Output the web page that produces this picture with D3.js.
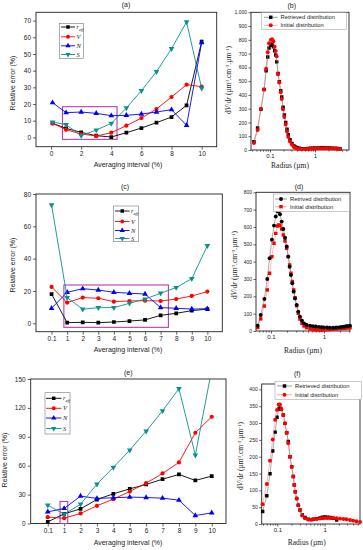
<!DOCTYPE html>
<html>
<head>
<meta charset="utf-8">
<script src="https://cdn.jsdelivr.net/npm/d3@7"></script>
<style>
body { margin: 0; background: #fff; }
svg { display: block; font-family: "Liberation Sans", Arial, sans-serif; }
</style>
</head>
<body>
<svg id="fig" width="363" height="550"></svg>
<script>
// ---- relative error panels ----
// (a) numeric x axis
var aX    = [0.1, 1, 2, 3, 4, 5, 6, 7, 8, 9, 10];
var aReff = [8.4, 5.4, 3.0, 1.0, 0.2, 2.8, 5.6, 8.8, 12.2, 19.2, 57.4];
var aV    = [8.4, 4.6, 2.0, 0.8, 2.8, 7.0, 11.6, 17.0, 24.2, 31.6, 30.4];
var aN    = [20.8, 14.8, 15.2, 14.4, 13.0, 13.2, 14.0, 15.2, 16.6, 7.2, 56.8];
var aS    = [9.2, 7.6, 1.0, 4.4, 8.4, 17.6, 28.0, 39.4, 53.2, 69.2, 29.4];

// (c) and (e) use category ticks
var intervals = ["0.1", "1", "2", "3", "4", "5", "6", "7", "8", "9", "10"];
var cReff = [18.1, 0.4, 0.6, 0.4, 0.8, 1.4, 2.1, 4.9, 6.2, 7.8, 8.8];
var cV    = [22.5, 12.8, 15.9, 15.5, 13.4, 13.8, 14.0, 13.8, 15.0, 16.9, 19.6];
var cN    = [9.3, 19.2, 21.4, 20.6, 19.2, 18.6, 18.1, 9.7, 9.3, 8.8, 9.0];
var cS    = [73.2, 15.9, 8.7, 9.7, 9.7, 12.4, 15.0, 18.6, 22.1, 27.6, 48.0];

var eReff = [1.7, 10.0, 15.2, 24.9, 30.8, 36.0, 40.5, 46.0, 50.9, 44.7, 49.2];
var eV    = [6.6, 5.5, 10.4, 18.4, 25.3, 33.2, 41.9, 52.0, 63.4, 94.2, 110.8];
var eN    = [12.1, 15.6, 28.4, 26.0, 26.7, 27.4, 27.0, 26.3, 24.2, 8.3, 11.0];
var eS    = [19.0, 9.7, 20.0, 40.9, 58.2, 76.2, 95.9, 117.0, 140.0, 71.0, 160.0];

// ---- size distributions ----
var bR   = [0.044, 0.053, 0.063, 0.074, 0.082, 0.089, 0.095, 0.104, 0.111, 0.119, 0.127, 0.134, 0.141, 0.151, 0.161, 0.173, 0.182, 0.195, 0.208, 0.223, 0.239, 0.255, 0.278, 0.308, 0.341, 0.37, 0.4, 0.45, 0.5, 0.6, 0.7, 0.8, 0.9, 1.0, 1.2, 1.4, 1.6, 1.8, 2.1, 2.4, 2.8, 3.2, 3.6];
var bRet = [60, 160, 295, 440, 575, 675, 740, 760, 770, 750, 720, 690, 640, 555, 495, 430, 385, 310, 255, 200, 150, 110, 75, 48, 30, 22, 16, 12, 10, 10, 11, 12, 13, 14, 15, 16, 16, 15, 14, 13, 12, 11, 10];
var bIni = [50, 145, 300, 440, 590, 710, 775, 800, 805, 790, 750, 720, 680, 550, 490, 420, 370, 295, 240, 185, 135, 95, 62, 38, 22, 14, 10, 8, 7, 7, 8, 9, 10, 11, 12, 13, 13, 13, 12, 11, 10, 9, 8];

var dR   = [0.056, 0.064, 0.075, 0.085, 0.094, 0.104, 0.114, 0.123, 0.132, 0.140, 0.148, 0.159, 0.171, 0.184, 0.198, 0.212, 0.225, 0.238, 0.252, 0.268, 0.284, 0.305, 0.327, 0.352, 0.384, 0.42, 0.47, 0.545, 0.62, 0.7, 0.8, 0.9, 1.0, 1.15, 1.3, 1.5, 1.7, 1.9, 2.1, 2.35, 2.6, 2.85, 3.1];
var dRet = [31, 92, 185, 300, 420, 527, 608, 660, 690, 690, 673, 631, 588, 538, 487, 429, 371, 323, 275, 227, 188, 150, 112, 83, 60, 44, 35, 31, 28, 26, 24, 22, 21, 20, 19, 19, 20, 21, 23, 25, 27, 29, 31];
var dIni = [20, 70, 144, 237, 333, 429, 506, 563, 606, 612, 608, 588, 554, 519, 477, 429, 381, 333, 285, 237, 192, 146, 102, 69, 44, 29, 19, 12, 9, 7, 6, 6, 7, 8, 9, 10, 12, 13, 14, 15, 16, 18, 19];

var fR   = [0.049, 0.06, 0.07, 0.08, 0.09, 0.0986, 0.107, 0.114, 0.1216, 0.134, 0.1455, 0.158, 0.171, 0.1855, 0.2015, 0.218, 0.229, 0.24, 0.257, 0.278, 0.302, 0.338, 0.385, 0.452, 0.52, 0.576, 0.68, 0.8, 0.9, 1.02, 1.15, 1.3, 1.5, 1.8, 2.12, 2.5, 2.9, 3.44, 4.0, 4.7, 5.6];
var fRet = [37, 84, 149, 217, 273, 317, 342, 345, 341, 324, 299, 271, 245, 200, 170, 141, 116, 96, 76, 56, 42, 27, 19, 14, 13, 14, 16, 18, 20, 21, 20, 19, 17, 12, null, null, null, null, null, null, null];
var fIni = [59, 119, 188, 251, 310, 339, 355, 355, 341, 324, 299, 271, 240, 200, 170, 141, 116, 96, 76, 56, 40, 25, 17, 13, 13, 14, 15, 16, 17, 18, 18, 18, 18, 17, 16, 15, 14, 12, 10, 8, 6];

var svg = d3.select("#fig");
var serif = "'Liberation Serif', 'Times New Roman', serif";
var seriesColors = ["#000000", "#ff0000", "#0000ff", "#0a9090"];
var seriesShapes = ["square", "circle", "up", "down"];
var boxColor = "#b040b0";
var clipCount = 0;

function marker(shape, size) {
    if (shape == "square") return d3.symbol(d3.symbolSquare, size)();
    if (shape == "circle") return d3.symbol(d3.symbolCircle, size)();
    return d3.symbol(d3.symbolTriangle, size)();
}

function drawMarkers(g, pts, shape, color, size) {
    g.selectAll(null)
        .data(pts)
        .enter().append("path")
        .attr("d", marker(shape, size))
        .attr("transform", function(d) {
            return "translate(" + d[0] + "," + d[1] + ")" + (shape == "down" ? " rotate(180)" : "");
        })
        .attr("fill", color);
}

function addClip(x0, y0, x1, y1) {
    var id = "clip" + (clipCount++);
    svg.append("clipPath").attr("id", id)
        .append("rect").attr("x", x0).attr("y", y0)
        .attr("width", x1 - x0).attr("height", y1 - y0);
    return "url(#" + id + ")";
}

function styleAxis(ax, fs) {
    ax.select(".domain").remove();
    ax.selectAll("line").attr("stroke", "#222").attr("stroke-width", 0.7);
    ax.selectAll("text").attr("font-size", fs).attr("fill", "#222");
}

function errorPanel(cfg) {
    var g = svg.append("g");
    var x = d3.scaleLinear().domain(cfg.xd).range([cfg.x0, cfg.x1]);
    var y = d3.scaleLinear().domain(cfg.yd).range([cfg.y1, cfg.y0]);

    var ax = g.append("g")
        .attr("transform", "translate(0," + cfg.y1 + ")")
        .call(d3.axisBottom(x).tickValues(cfg.xticks).tickFormat(cfg.xfmt).tickSize(3).tickPadding(2));
    styleAxis(ax, 6.5);
    var ay = g.append("g")
        .attr("transform", "translate(" + cfg.x0 + ",0)")
        .call(d3.axisLeft(y).tickValues(cfg.yticks).tickSize(3).tickPadding(2));
    styleAxis(ay, 6.5);

    g.append("rect")
        .attr("x", cfg.x0).attr("y", cfg.y0)
        .attr("width", cfg.x1 - cfg.x0).attr("height", cfg.y1 - cfg.y0)
        .attr("fill", "none").attr("stroke", "#222").attr("stroke-width", 0.9);

    // highlighted region
    g.append("rect")
        .attr("x", x(cfg.box[0])).attr("y", y(cfg.box[3]))
        .attr("width", x(cfg.box[1]) - x(cfg.box[0]))
        .attr("height", y(cfg.box[2]) - y(cfg.box[3]))
        .attr("fill", "none").attr("stroke", boxColor).attr("stroke-width", 1.1);

    var plot = g.append("g").attr("clip-path", addClip(cfg.x0, cfg.y0, cfg.x1, cfg.y1));
    cfg.series.forEach(function(vals, k) {
        var pts = vals.map(function(v, i) { return [x(cfg.xs[i]), y(v)]; });
        plot.append("path")
            .attr("d", d3.line()(pts))
            .attr("fill", "none").attr("stroke", seriesColors[k]).attr("stroke-width", 0.9);
        drawMarkers(plot, pts, seriesShapes[k], seriesColors[k], 14);
    });

    // legend
    var L = cfg.legend;
    g.append("rect")
        .attr("x", L.x).attr("y", L.y).attr("width", L.w).attr("height", L.h)
        .attr("fill", "#fff").attr("stroke", "#777").attr("stroke-width", 0.6);
    var names = [["r", "eff"], ["V"], ["N"], ["S"]];
    names.forEach(function(nm, k) {
        var ry = L.rows[k];
        g.append("line")
            .attr("x1", L.lx0).attr("x2", L.lx1).attr("y1", ry).attr("y2", ry)
            .attr("stroke", seriesColors[k]).attr("stroke-width", 0.9);
        drawMarkers(g, [[(L.lx0 + L.lx1) / 2, ry]], seriesShapes[k], seriesColors[k], 12);
        var t = g.append("text")
            .attr("x", L.lx1 + 1.5).attr("y", ry + 2)
            .attr("font-family", serif).attr("font-style", "italic")
            .attr("font-size", 6.5).attr("fill", "#222")
            .text(nm[0]);
        if (nm[1]) {
            t.append("tspan").attr("dy", 1.8).attr("font-size", 4.5).text(nm[1]);
        }
    });

    g.append("text")
        .attr("x", cfg.title[0]).attr("y", cfg.title[1])
        .attr("text-anchor", "middle").attr("font-size", 7).attr("fill", "#222")
        .text(cfg.name);
    g.append("text")
        .attr("x", cfg.xlab[0]).attr("y", cfg.xlab[1])
        .attr("text-anchor", "middle").attr("font-size", 7).attr("fill", "#222")
        .text("Averaging interval (%)");
    g.append("text")
        .attr("transform", "translate(" + cfg.ylab[0] + "," + cfg.ylab[1] + ") rotate(-90)")
        .attr("text-anchor", "middle").attr("font-size", 7).attr("fill", "#222")
        .text("Relative error (%)");
}

function distPanel(cfg) {
    var g = svg.append("g");
    var x = d3.scaleLog().domain(cfg.xd).range([cfg.x0, cfg.x1]);
    var y = d3.scaleLinear().domain(cfg.yd).range([cfg.y1, cfg.y0]);

    var minor = [];
    [0.01, 0.1, 1].forEach(function(dec) {
        for (var m = 2; m <= 9; m++) {
            var v = m * dec;
            if (v > cfg.xd[0] && v < cfg.xd[1]) minor.push(v);
        }
    });
    var axm = g.append("g")
        .attr("transform", "translate(0," + cfg.y1 + ")")
        .call(d3.axisBottom(x).tickValues(minor).tickFormat("").tickSize(1.6));
    styleAxis(axm, 6);
    var ax = g.append("g")
        .attr("transform", "translate(0," + cfg.y1 + ")")
        .call(d3.axisBottom(x).tickValues([0.1, 1]).tickFormat(d3.format("")).tickSize(2.5).tickPadding(1.5));
    styleAxis(ax, 6);
    var ay = g.append("g")
        .attr("transform", "translate(" + cfg.x0 + ",0)")
        .call(d3.axisLeft(y).tickValues(cfg.yticks).tickSize(2.5).tickPadding(1.5));
    styleAxis(ay, 5);

    g.append("rect")
        .attr("x", cfg.x0).attr("y", cfg.y0)
        .attr("width", cfg.x1 - cfg.x0).attr("height", cfg.y1 - cfg.y0)
        .attr("fill", "none").attr("stroke", "#222").attr("stroke-width", 0.9);

    var plot = g.append("g").attr("clip-path", addClip(cfg.x0 - 3, cfg.y0, cfg.x1 + 3, cfg.y1 + 3));
    var lineCol = { ret: "#555", ini: "#ff7070" };
    cfg.order.forEach(function(key) {
        var vals = key == "ret" ? cfg.ret : cfg.ini;
        var pts = [];
        vals.forEach(function(v, i) {
            if (v != null) pts.push([x(cfg.r[i]), y(v)]);
        });
        plot.append("path")
            .attr("d", d3.line()(pts))
            .attr("fill", "none").attr("stroke", lineCol[key]).attr("stroke-width", 0.5);
        drawMarkers(plot, pts, cfg.shapes[key], key == "ret" ? "#000" : "#ff0000", 12);
    });

    var L = cfg.legend;
    g.append("rect")
        .attr("x", L.x).attr("y", L.y).attr("width", L.w).attr("height", L.h)
        .attr("fill", "#fff").attr("stroke", "#999").attr("stroke-width", 0.5);
    [["ret", cfg.retName], ["ini", "Initial distribution"]].forEach(function(e, k) {
        var ry = L.rows[k];
        g.append("line")
            .attr("x1", L.lx0).attr("x2", L.lx1).attr("y1", ry).attr("y2", ry)
            .attr("stroke", lineCol[e[0]]).attr("stroke-width", 0.6);
        drawMarkers(g, [[(L.lx0 + L.lx1) / 2, ry]], cfg.shapes[e[0]], e[0] == "ret" ? "#000" : "#ff0000", 12);
        g.append("text")
            .attr("x", L.lx1 + 3).attr("y", ry + 2)
            .attr("font-size", 5.8).attr("fill", "#222")
            .text(e[1]);
    });

    g.append("text")
        .attr("x", cfg.title[0]).attr("y", cfg.title[1])
        .attr("text-anchor", "middle").attr("font-size", 7).attr("fill", "#222")
        .text(cfg.name);
    g.append("text")
        .attr("x", cfg.xlab[0]).attr("y", cfg.xlab[1])
        .attr("text-anchor", "middle").attr("font-family", serif)
        .attr("font-size", 7.5).attr("fill", "#222")
        .text("Radius (\u00b5m)");
    var yl = g.append("text")
        .attr("transform", "translate(" + cfg.ylab[0] + "," + cfg.ylab[1] + ") rotate(-90)")
        .attr("text-anchor", "middle").attr("font-family", serif)
        .attr("font-size", 7.5).attr("fill", "#222");
    yl.append("tspan").text("d");
    yl.append("tspan").attr("font-style", "italic").text("V");
    yl.append("tspan").text("/d");
    yl.append("tspan").attr("font-style", "italic").text("r");
    yl.append("tspan").text(" (\u00b5m");
    yl.append("tspan").attr("dy", -2.5).attr("font-size", 5).text("3");
    yl.append("tspan").attr("dy", 2.5).text(".cm");
    yl.append("tspan").attr("dy", -2.5).attr("font-size", 5).text("-3");
    yl.append("tspan").attr("dy", 2.5).text(".\u00b5m");
    yl.append("tspan").attr("dy", -2.5).attr("font-size", 5).text("-1");
    yl.append("tspan").attr("dy", 2.5).text(")");
}

var idx = intervals.map(function(d, i) { return i; });
var catFmt = function(d) { return intervals[d]; };

errorPanel({
    name: "(a)", x0: 36, x1: 216.7, y0: 12.3, y1: 146.7,
    xd: [-1, 11], yd: [-5.6, 75],
    xs: aX, xticks: [0, 2, 4, 6, 8, 10], xfmt: d3.format("d"),
    yticks: [0, 10, 20, 30, 40, 50, 60, 70],
    series: [aReff, aV, aN, aS],
    box: [0.76, 4.38, -1.2, 18.4],
    legend: { x: 59.3, y: 23.3, w: 24, h: 35, lx0: 61, lx1: 75, rows: [27, 36.8, 45.8, 54.5] },
    title: [126, 7], xlab: [128, 167], ylab: [15, 83]
});

errorPanel({
    name: "(c)", x0: 36, x1: 222.3, y0: 194, y1: 331.7,
    xd: [-1, 10.96], yd: [-5.2, 80],
    xs: idx, xticks: idx, xfmt: catFmt,
    yticks: [0, 20, 40, 60, 80],
    series: [cReff, cV, cN, cS],
    box: [0.79, 7.5, -2.5, 23.7],
    legend: { x: 113.3, y: 206, w: 25, h: 35.7, lx0: 115, lx1: 129.5, rows: [211, 221.5, 230.5, 238.5] },
    title: [125, 189], xlab: [128, 352], ylab: [15, 265]
});

errorPanel({
    name: "(e)", x0: 30.7, x1: 226, y0: 379, y1: 523.5,
    xd: [-1.04, 10.87], yd: [0, 150],
    xs: idx, xticks: idx, xfmt: catFmt,
    yticks: [0, 30, 60, 90, 120, 150],
    series: [eReff, eV, eN, eS],
    box: [0.75, 1.22, 0, 22.9],
    legend: { x: 45, y: 392.7, w: 25, h: 41.3, lx0: 46, lx1: 61.5, rows: [398.3, 408.3, 418, 428.5] },
    title: [128.3, 375], xlab: [128, 545], ylab: [6.5, 460]
});

distPanel({
    name: "(b)", x0: 251, x1: 349, y0: 12.3, y1: 150,
    xd: [0.0378, 5.7], yd: [0, 1000],
    yticks: d3.range(0, 1001, 100),
    r: bR, ret: bRet, ini: bIni, order: ["ret", "ini"],
    shapes: { ret: "square", ini: "circle" }, retName: "Retrieved distribution",
    legend: { x: 261.7, y: 12.7, w: 85, h: 16.6, lx0: 264, lx1: 277.5, rows: [17.3, 25.3] },
    title: [291.7, 7.5], xlab: [290, 167.5], ylab: [231, 80]
});

distPanel({
    name: "(d)", x0: 256, x1: 350, y0: 192.3, y1: 331,
    xd: [0.0521, 3.1], yd: [0, 800],
    yticks: d3.range(0, 801, 100),
    r: dR, ret: dRet, ini: dIni, order: ["ini", "ret"],
    shapes: { ret: "circle", ini: "square" }, retName: "Retrived distribution",
    legend: { x: 273.3, y: 194, w: 76, h: 17.7, lx0: 275, lx1: 287, rows: [199, 206.7] },
    title: [299, 189], xlab: [303, 353], ylab: [237, 265]
});

distPanel({
    name: "(f)", x0: 261.7, x1: 360, y0: 384, y1: 524,
    xd: [0.0468, 5.6], yd: [0, 416],
    yticks: d3.range(0, 401, 50),
    r: fR, ret: fRet, ini: fIni, order: ["ret", "ini"],
    shapes: { ret: "square", ini: "circle" }, retName: "Retrieved distribution",
    legend: { x: 275, y: 381.7, w: 86.5, h: 17.6, lx0: 277, lx1: 292, rows: [386, 394.7] },
    title: [297.3, 376], xlab: [306.7, 545], ylab: [243, 456]
});
</script>
</body>
</html>
